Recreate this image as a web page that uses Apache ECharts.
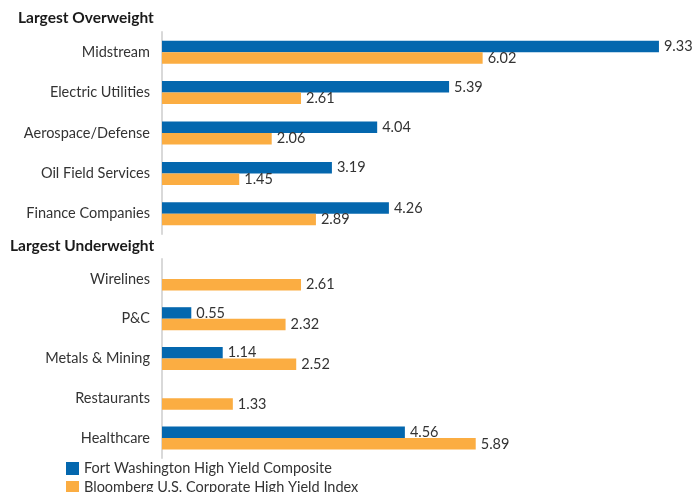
<!DOCTYPE html>
<html><head><meta charset="utf-8">
<script src="https://cdn.jsdelivr.net/npm/echarts@6/dist/echarts.min.js"></script>
<style>html,body{margin:0;padding:0;background:#fff}#c{width:693px;height:492px}</style>
</head><body><div id="c"></div>
<script>
const overCats = ["Midstream","Electric Utilities","Aerospace/Defense","Oil Field Services","Finance Companies"];
const overFW = [9.33,5.39,4.04,3.19,4.26];
const overBB = [6.02,2.61,2.06,1.45,2.89];
const underCats = ["Wirelines","P&C","Metals & Mining","Restaurants","Healthcare"];
const underFW = [null,0.55,1.14,null,4.56];
const underBB = [2.61,2.32,2.52,1.33,5.89];
const seriesNames = ["Fort Washington High Yield Composite","Bloomberg U.S. Corporate High Yield Index"];
const colors = ["#0467AE","#FBAD42"];
const FONT = "Lato, 'Open Sans', sans-serif";

const chart = echarts.init(document.getElementById('c'));
function yAx(cats, gi){
  return {type:'category', gridIndex:gi, data:cats, inverse:true,
    axisLine:{show:true, lineStyle:{color:'#d9d9d9', width:2}},
    axisTick:{show:false},
    axisLabel:{color:'#333', fontSize:14.5, fontFamily:FONT, margin:12}};
}
function xAx(gi){
  return {type:'value', gridIndex:gi, min:0, max:9.5, show:false, splitLine:{show:false}};
}
function bar(name, data, gi, ci){
  return {type:'bar', name:name, xAxisIndex:gi, yAxisIndex:gi, data:data,
    barWidth:11.5, barGap:'0%', itemStyle:{color:colors[ci]},
    label:{show:true, position:'right', distance:5, color:'#333', fontSize:14.5, fontFamily:FONT, padding:[3,0,0,0]}};
}
chart.setOption({
  animation:false,
  grid:[
    {left:162, right:25, top:32, height:202},
    {left:162, right:25, top:259, height:199}
  ],
  xAxis:[xAx(0), xAx(1)],
  yAxis:[yAx(overCats,0), yAx(underCats,1)],
  graphic:[
    {type:'text', left:18, top:10, style:{text:'Largest Overweight', font:'bold 15.5px '+FONT, fill:'#1a1a1a'}},
    {type:'text', left:10, top:238, style:{text:'Largest Underweight', font:'bold 15.5px '+FONT, fill:'#1a1a1a'}}
  ],
  legend:{orient:'vertical', left:66, top:461, height:60, padding:0, itemWidth:13, itemHeight:13, itemGap:4,
    icon:'rect', data:seriesNames,
    textStyle:{color:'#333', fontSize:14.5, fontFamily:FONT}},
  series:[
    bar(seriesNames[0], overFW, 0, 0),
    bar(seriesNames[1], overBB, 0, 1),
    bar(seriesNames[0], underFW, 1, 0),
    bar(seriesNames[1], underBB, 1, 1)
  ]
});
</script></body></html>
